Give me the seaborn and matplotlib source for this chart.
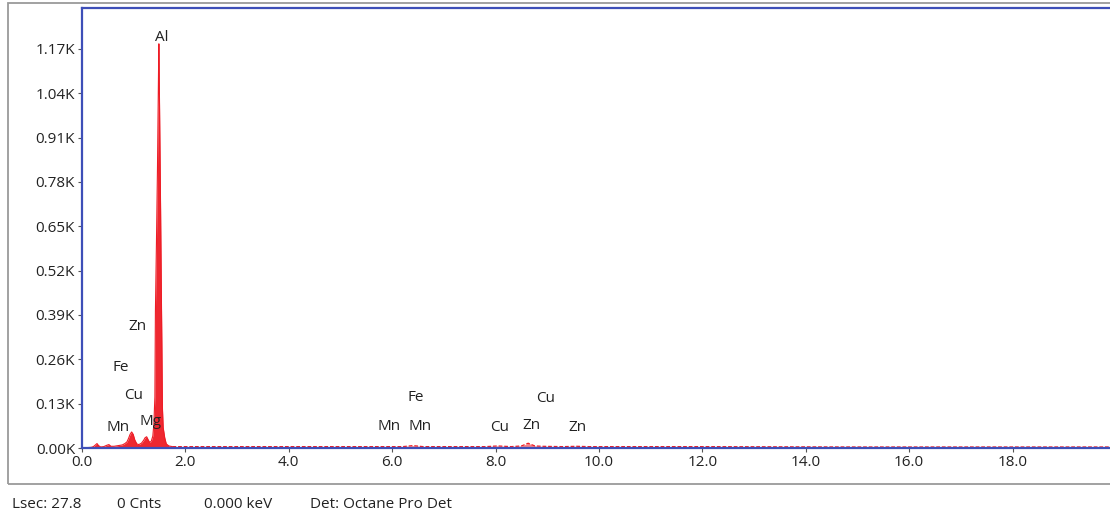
import matplotlib
matplotlib.use("Agg")
import matplotlib.pyplot as plt
import seaborn as sns
import pandas as pd
from matplotlib.patches import Rectangle
from matplotlib.ticker import FuncFormatter

# ---- data (energy in keV, intensity in counts) ----
peak_energy = [0.00, 0.18, 0.22, 0.26, 0.29, 0.32, 0.36, 0.42, 0.48, 0.52, 0.56, 0.62,
               0.70, 0.78, 0.83, 0.87, 0.90, 0.93, 0.96, 0.99, 1.02, 1.06, 1.10,
               1.15, 1.19, 1.22, 1.25, 1.28, 1.31, 1.34, 1.37, 1.39, 1.41, 1.42,
               1.44, 1.46, 1.48, 1.487, 1.50, 1.52, 1.535, 1.545, 1.555, 1.57,
               1.60, 1.63, 1.68, 1.75]
peak_counts = [0, 2, 4, 9, 13, 7, 3, 4, 8, 10, 5, 5,
               7, 9, 13, 18, 28, 40, 47, 40, 24, 12, 10,
               14, 22, 30, 33, 24, 16, 20, 35, 70, 150, 400,
               600, 820, 1100, 1185, 1000, 700, 450, 300, 120, 60,
               30, 12, 6, 4]

bg_energy = [1.75, 3.0, 5.0, 5.9, 6.2, 6.40, 6.6, 7.8, 8.04, 8.3, 8.50, 8.63,
             8.76, 8.9, 9.3, 9.57, 9.8, 12.0, 15.0, 20.0]
bg_counts = [4, 4, 4, 4, 4, 7, 4, 4, 6, 4, 6, 14,
             6, 5, 4, 5, 4, 4, 3, 3]

label_text = ["Al", "Zn", "Fe", "Cu", "Mn", "Mg",
              "Mn", "Fe", "Mn", "Cu", "Zn", "Cu", "Zn"]
label_x = [1.55, 1.08, 0.74, 0.99, 0.70, 1.33,
           5.94, 6.46, 6.54, 8.07, 8.69, 8.96, 9.59]
label_y = [1203, 357, 237, 155, 61, 79,
           64, 149, 64, 59, 67, 146, 59]

y_ticks = [0, 130, 260, 390, 520, 650, 780, 910, 1040, 1170]
x_ticks = [0, 2, 4, 6, 8, 10, 12, 14, 16, 18]

footer = [("Lsec: 27.8", 12), ("0 Cnts", 117), ("0.000 keV", 204),
          ("Det: Octane Pro Det", 310)]

# ---- style ----
sns.set_theme(style="white")
plt.rcParams["font.family"] = ["Open Sans", "DejaVu Sans"]

RED = "#EE1C25"
BLUE = "#3E4FB8"

W, H = 1110, 517
fig = plt.figure(figsize=(W / 100, H / 100), dpi=100)
fig.patch.set_facecolor("white")

# outer grey frame
fig.add_artist(Rectangle((8 / W, (H - 484) / H), 1.2, 481 / H,
                         transform=fig.transFigure, fill=False,
                         edgecolor="#9a9a9a", linewidth=1.3))

ax = fig.add_axes([82 / W, (H - 448) / H, 1034 / W, 440 / H])

spec = pd.DataFrame({"E": peak_energy, "C": peak_counts})
bg = pd.DataFrame({"E": bg_energy, "C": bg_counts})

ax.fill_between(spec["E"], spec["C"], color=RED, linewidth=0, alpha=0.95)
sns.lineplot(data=spec, x="E", y="C", ax=ax, color=RED, linewidth=0.8)
ax.fill_between(bg["E"], bg["C"], color=RED, linewidth=0, alpha=0.55)
sns.lineplot(data=bg, x="E", y="C", ax=ax, color=RED, linewidth=0.9,
             linestyle=(0, (3, 1.5)), alpha=1.0)

ax.set_xlim(0, 20)
ax.set_ylim(0, 1290)
ax.set_xticks(x_ticks)
ax.set_yticks(y_ticks)
ax.xaxis.set_major_formatter(FuncFormatter(lambda v, p: f"{v:.1f}"))
ax.yaxis.set_major_formatter(FuncFormatter(lambda v, p: f"{v/1000:.2f}K"))
ax.set_xlabel("")
ax.set_ylabel("")
ax.tick_params(axis="both", which="major", labelsize=11, colors="#222222",
               length=3, width=0.8, direction="out", pad=2,
               bottom=True, left=True)
ax.tick_params(axis="both", color="#555555")

for side in ["left", "bottom", "top", "right"]:
    ax.spines[side].set_color(BLUE)
    ax.spines[side].set_linewidth(1.6)
    ax.spines[side].set_visible(True)

for t, x, y in zip(label_text, label_x, label_y):
    ax.text(x, y, t, ha="center", va="center", fontsize=11, color="#222222")

for t, px in footer:
    fig.text(px / W, (H - 505) / H, t, ha="left", va="center",
             fontsize=11, color="#222222")

fig.savefig("out.png", dpi=100)
